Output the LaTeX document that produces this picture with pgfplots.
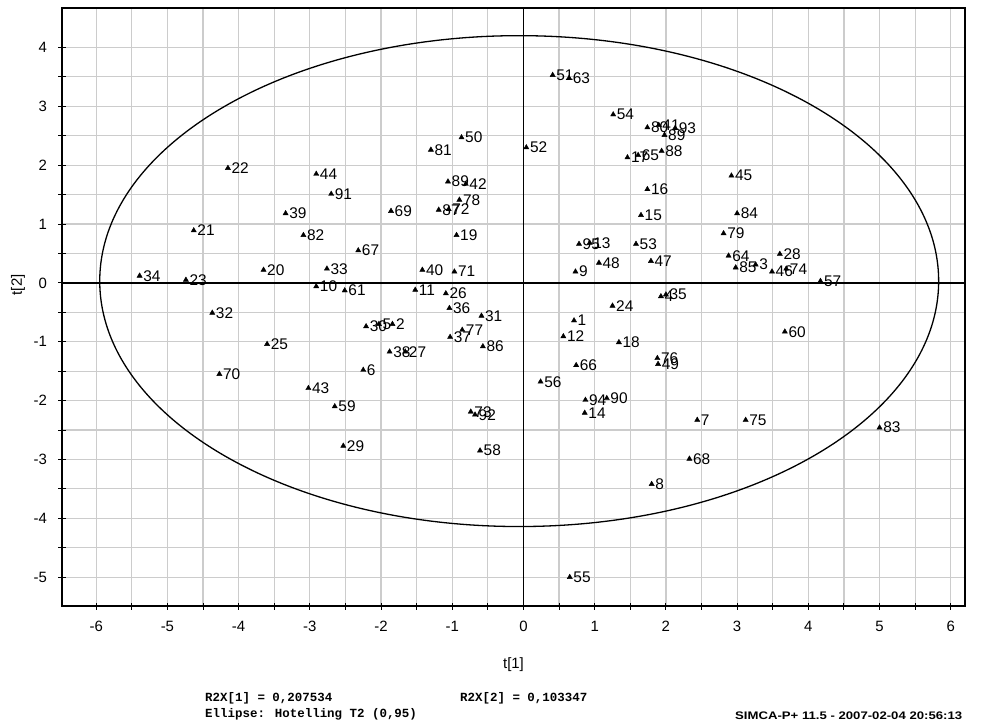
\documentclass[border=0pt]{standalone}
\usepackage{pgfplots}
\pgfplotsset{compat=1.18}
\usepackage{pgfplotstable}
\usepackage{fontspec}
\setmainfont{Liberation Sans}
\newfontfamily\monofont{Liberation Mono}

\pgfplotstableread{
x y lab
-4.15 1.95 22
-2.91 1.85 44
-2.70 1.51 91
-3.34 1.18 39
0.41 3.53 51
0.64 3.48 63
1.26 2.86 54
-0.87 2.47 50
-1.30 2.26 81
0.04 2.30 52
1.74 2.64 80
1.90 2.68 41
2.13 2.63 93
1.98 2.51 89
1.46 2.13 17
1.61 2.17 65
1.94 2.24 88
1.74 1.59 16
-1.06 1.72 89
-0.81 1.68 42
-0.90 1.41 78
-1.86 1.22 69
-1.19 1.24 87
-1.05 1.25 72
1.65 1.15 15
2.92 1.82 45
3.00 1.18 84
-4.63 0.89 21
-5.39 0.12 34
-4.74 0.05 23
-3.65 0.22 20
-3.09 0.81 82
-2.32 0.55 67
-2.76 0.24 33
-2.91 -0.06 10
-2.51 -0.13 61
-4.37 -0.51 32
-3.60 -1.04 25
-4.27 -1.55 70
-2.21 -0.74 30
-2.03 -0.70 5
-1.84 -0.70 2
-2.25 -1.48 6
-3.02 -1.79 43
-2.65 -2.10 59
-0.94 0.81 19
-1.42 0.22 40
-0.97 0.19 71
-1.52 -0.12 11
-1.09 -0.18 26
-1.04 -0.43 36
-0.59 -0.56 31
-0.86 -0.80 77
-1.03 -0.92 37
-0.57 -1.08 86
-1.88 -1.17 38
-1.66 -1.17 27
-0.74 -2.19 73
-0.68 -2.24 92
0.78 0.66 95
0.93 0.68 13
1.58 0.66 53
1.79 0.37 47
1.06 0.34 48
0.73 0.19 9
1.25 -0.39 24
1.93 -0.23 4
2.00 -0.20 35
0.71 -0.64 1
0.56 -0.91 12
1.34 -1.01 18
0.74 -1.40 66
1.88 -1.28 76
1.89 -1.38 49
0.24 -1.68 56
0.87 -1.99 94
1.17 -1.96 90
0.86 -2.21 14
2.81 0.84 79
2.88 0.46 64
2.98 0.26 85
3.26 0.31 3
3.60 0.49 28
3.49 0.19 46
3.69 0.24 74
4.17 0.03 57
3.67 -0.83 60
2.44 -2.33 7
3.12 -2.33 75
2.33 -2.99 68
5.00 -2.46 83
1.80 -3.42 8
-0.61 -2.85 58
0.65 -5.00 55
-2.53 -2.77 29
}\scores

\begin{document}
\begin{tikzpicture}
\useasboundingbox (-62bp,-116bp) rectangle (920bp,606bp);
\begin{axis}[
  at={(0,0)}, anchor=south west,
  scale only axis, width=903bp, height=598bp,
  xmin=-6.48, xmax=6.2, ymin=-5.49, ymax=4.67,
  axis line style={black, line width=1.6bp},
  xtick={-6,...,6}, ytick={-5,...,4},
  minor tick num=1,
  grid=both,
  major grid style={black!20, line width=1.2bp},
  minor grid style={black!20, line width=1.2bp},
  tick align=center,
  major tick length=7bp, minor tick length=7bp,
  tick style={black, line width=1bp},
  xtick pos=lower, ytick pos=lower,
  xticklabels={-6,-5,-4,-3,-2,-1,0,1,2,3,4,5,6},
  yticklabels={-5,-4,-3,-2,-1,0,1,2,3,4},
  tick label style={font=\fontsize{15}{17}\selectfont},
  xticklabel style={yshift=-8bp},
  yticklabel style={xshift=-8bp},
  xlabel={t[1]}, ylabel={t[2]},
  label style={font=\fontsize{15}{17}\selectfont},
  xlabel style={at={(axis description cs:0.5,-0.0987)}, anchor=center},
  ylabel style={at={(axis description cs:-0.0487,0.537)}, anchor=center},
]
\draw[black, line width=1.8bp] (axis cs:0,-5.49) -- (axis cs:0,4.67);
\draw[black, line width=1.8bp] (axis cs:-6.48,0) -- (axis cs:6.2,0);
\draw[black, line width=1.3bp] (axis cs:-0.06,0.03) ellipse [x radius=5.89, y radius=4.17];
\addplot[only marks, mark=triangle*, mark size=3bp, black,
  point meta=explicit symbolic, nodes near coords,
  nodes near coords style={anchor=west, inner sep=0pt, xshift=3.5bp, font=\fontsize{15.5}{17}\selectfont}]
  table[x=x, y=y, meta=lab] {\scores};
\end{axis}
\node[anchor=west, font=\monofont\bfseries\fontsize{12.5}{14}\selectfont, inner sep=0pt] at (143bp,-92bp) {R2X[1] = 0,207534};
\node[anchor=west, font=\monofont\bfseries\fontsize{12.5}{14}\selectfont, inner sep=0pt] at (398bp,-92bp) {R2X[2] = 0,103347};
\node[anchor=west, font=\monofont\bfseries\fontsize{12.5}{14}\selectfont, inner sep=0pt] at (143bp,-108bp) {Ellipse: Hotelling T2 (0,95)};
\node[anchor=west, font=\bfseries\fontsize{11}{12}\selectfont, inner sep=0pt] at (673bp,-110bp) {\scalebox{1.2}[1]{SIMCA-P+ 11.5 - 2007-02-04 20:56:13}};
\end{tikzpicture}
\end{document}
